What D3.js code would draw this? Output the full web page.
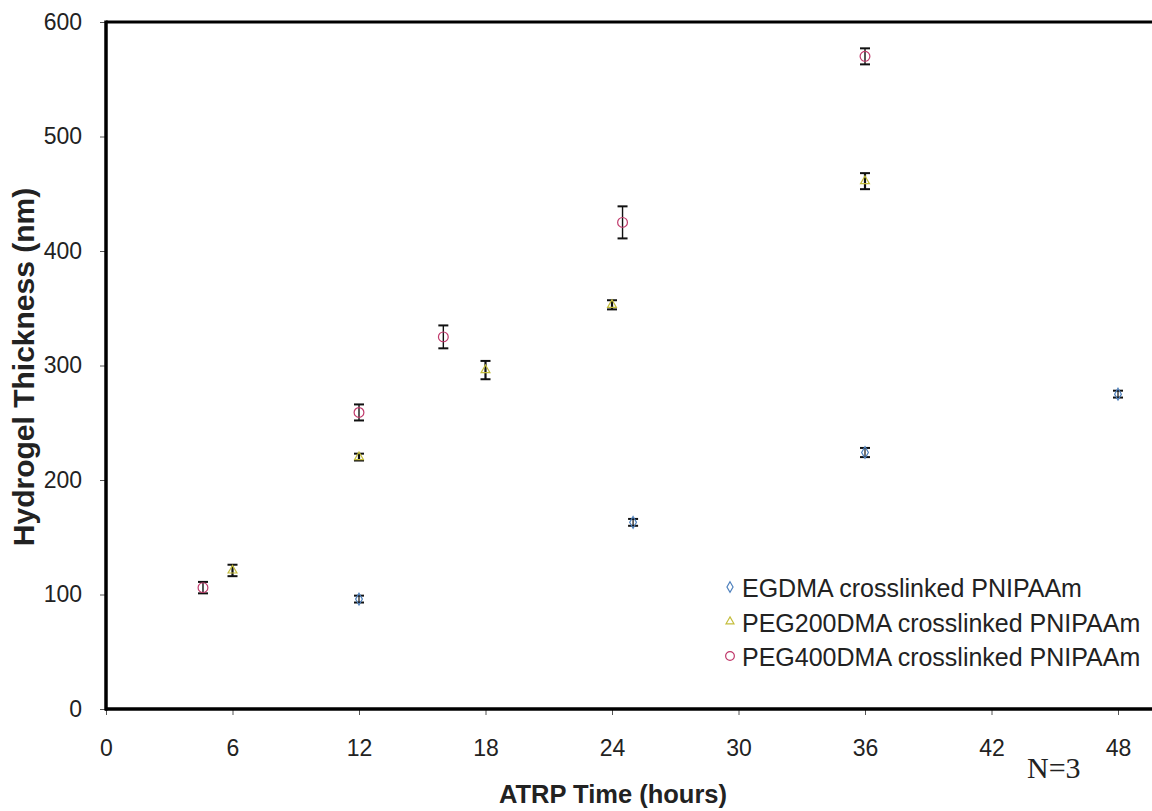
<!DOCTYPE html>
<html>
<head>
<meta charset="utf-8">
<script src="https://cdn.jsdelivr.net/npm/d3@7"></script>
<style>
  html, body { margin: 0; padding: 0; background: #fff; }
  svg { display: block; }
</style>
</head>
<body>
<svg id="chart" width="1152" height="811"></svg>
<script>
// Hydrogel thickness vs ATRP polymerisation time, mean ± error (N=3)
const egdmaTime = [12, 25, 36, 48];
const egdmaThick = [96, 163, 224, 275];
const egdmaErr = [3, 3, 4, 3];

const peg200Time = [6, 12, 18, 24, 36];
const peg200Thick = [121, 220, 296, 353, 461];
const peg200Err = [5, 3, 8, 4, 7];

const peg400Time = [4.6, 12, 16, 24.5, 36];
const peg400Thick = [106, 259, 325, 425, 570];
const peg400Err = [5, 7, 10, 14, 7];

const xTicks = [0, 6, 12, 18, 24, 30, 36, 42, 48];
const yTicks = [0, 100, 200, 300, 400, 500, 600];

const seriesNames = [
  "EGDMA crosslinked PNIPAAm",
  "PEG200DMA crosslinked PNIPAAm",
  "PEG400DMA crosslinked PNIPAAm"
];

const series = [
  { name: seriesNames[0], t: egdmaTime, v: egdmaThick, e: egdmaErr, shape: d3.symbolDiamond, color: "#4f81bd", size: 40, ebWidth: 1.2 },
  { name: seriesNames[1], t: peg200Time, v: peg200Thick, e: peg200Err, shape: d3.symbolTriangle, color: "#c4bd3c", size: 34, ebWidth: 2.2 },
  { name: seriesNames[2], t: peg400Time, v: peg400Thick, e: peg400Err, shape: d3.symbolCircle, color: "#c0396b", size: 75, ebWidth: 1.4 }
];

const sans = "Liberation Sans, Arial, sans-serif";
const svg = d3.select("#chart");
const plot = { left: 106, top: 22, bottom: 709 };

const x = d3.scaleLinear().domain([0, 48]).range([plot.left, 1118]);
const y = d3.scaleLinear().domain([0, 600]).range([plot.bottom, plot.top]);

// top border of the plot frame
svg.append("line")
  .attr("x1", plot.left).attr("x2", 1152)
  .attr("y1", plot.top).attr("y2", plot.top)
  .attr("stroke", "#000").attr("stroke-width", 3);

// x axis
const xAxis = svg.append("g")
  .attr("transform", `translate(0,${plot.bottom})`)
  .call(d3.axisBottom(x).tickValues(xTicks).tickSize(6));
xAxis.select(".domain").remove();
xAxis.selectAll(".tick line").attr("stroke", "#555").attr("stroke-width", 1);
xAxis.selectAll(".tick text")
  .attr("y", 47).attr("dy", null)
  .attr("font-family", sans)
  .attr("font-size", 23).attr("fill", "#222");
svg.append("line")
  .attr("x1", plot.left - 1).attr("x2", 1152)
  .attr("y1", plot.bottom).attr("y2", plot.bottom)
  .attr("stroke", "#000").attr("stroke-width", 3.5);

// y axis
const yAxis = svg.append("g")
  .attr("transform", `translate(${plot.left},0)`)
  .call(d3.axisLeft(y).tickValues(yTicks).tickSize(6));
yAxis.select(".domain").remove();
yAxis.selectAll(".tick line").attr("stroke", "#555").attr("stroke-width", 1);
yAxis.selectAll(".tick text")
  .attr("x", -24)
  .attr("font-family", sans)
  .attr("font-size", 23).attr("fill", "#222");
svg.append("line")
  .attr("x1", plot.left).attr("x2", plot.left)
  .attr("y1", plot.top - 1.5).attr("y2", plot.bottom + 1.5)
  .attr("stroke", "#000").attr("stroke-width", 3.5);

// axis titles
svg.append("text")
  .attr("x", 613).attr("y", 803)
  .attr("text-anchor", "middle")
  .attr("font-family", sans)
  .attr("font-size", 25.5).attr("font-weight", "bold").attr("fill", "#222")
  .text("ATRP Time (hours)");

svg.append("text")
  .attr("transform", "translate(34,367) rotate(-90)")
  .attr("text-anchor", "middle")
  .attr("font-family", sans)
  .attr("font-size", 30).attr("font-weight", "bold").attr("fill", "#222")
  .text("Hydrogel Thickness (nm)");

// data: error bars then markers
series.forEach(s => {
  const g = svg.append("g");
  const pts = s.t.map((t, i) => ({ t, v: s.v[i], e: s.e[i] }));
  const cap = 5;
  pts.forEach(p => {
    const cx = x(p.t), y1 = y(p.v + p.e), y0 = y(p.v - p.e);
    g.append("line").attr("x1", cx).attr("x2", cx).attr("y1", y1).attr("y2", y0)
      .attr("stroke", "#111").attr("stroke-width", s.ebWidth);
    g.append("line").attr("x1", cx - cap).attr("x2", cx + cap).attr("y1", y1).attr("y2", y1)
      .attr("stroke", "#111").attr("stroke-width", 2);
    g.append("line").attr("x1", cx - cap).attr("x2", cx + cap).attr("y1", y0).attr("y2", y0)
      .attr("stroke", "#111").attr("stroke-width", 2);
  });
  g.selectAll("path.mark")
    .data(pts)
    .join("path")
    .attr("class", "mark")
    .attr("d", d3.symbol().type(s.shape).size(s.size))
    .attr("transform", p => `translate(${x(p.t)},${y(p.v)})`)
    .attr("fill", "none")
    .attr("stroke", s.color)
    .attr("stroke-width", 1.2);
});

// legend
const legend = svg.append("g");
series.forEach((s, i) => {
  const ly = 587 + i * 34.5;
  legend.append("path")
    .attr("d", d3.symbol().type(s.shape).size(s.size * 0.8))
    .attr("transform", `translate(730,${ly})`)
    .attr("fill", "none").attr("stroke", s.color).attr("stroke-width", 1.2);
  legend.append("text")
    .attr("x", 742).attr("y", ly + 10)
    .attr("font-family", sans)
    .attr("font-size", 25).attr("fill", "#222")
    .text(s.name);
});

// sample size note
svg.append("text")
  .attr("x", 1027).attr("y", 778)
  .attr("font-family", "Liberation Serif, Times New Roman, serif")
  .attr("font-size", 30).attr("fill", "#222")
  .text("N=3");
</script>
</body>
</html>
